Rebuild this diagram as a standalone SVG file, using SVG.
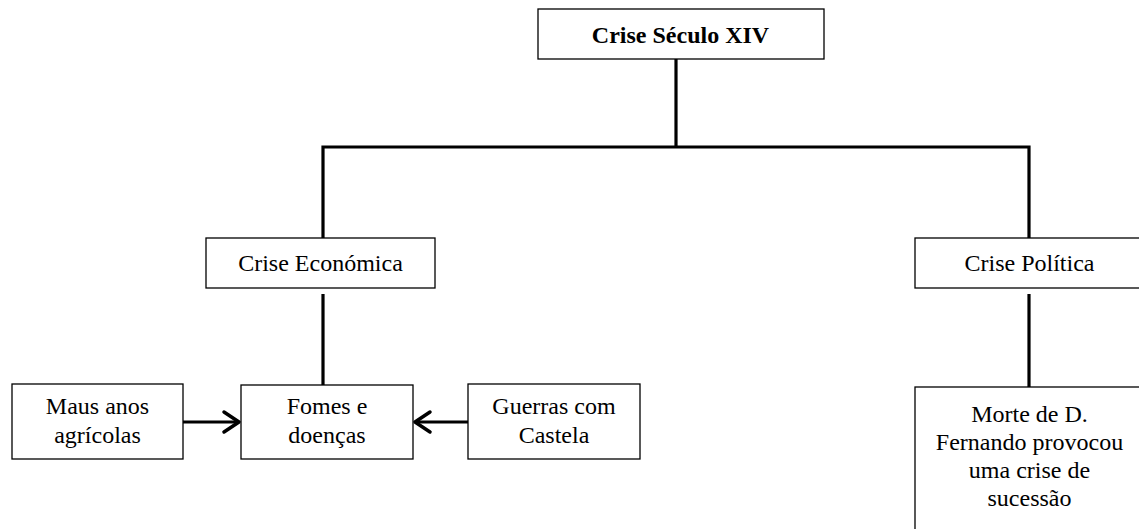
<svg xmlns="http://www.w3.org/2000/svg" width="1139" height="529" viewBox="0 0 1139 529">
  <defs>
    <style>
      .box { fill: #ffffff; stroke: #000000; stroke-width: 1.3; }
      .t { font-family: "Liberation Serif", "Times New Roman", serif; font-size: 24px; fill: #000000; text-anchor: middle; }
      .b { font-weight: bold; }
      .ln { fill: none; stroke: #000000; stroke-width: 3.2; }
      .ar { fill: none; stroke: #000000; stroke-width: 3.5; stroke-linecap: round; stroke-linejoin: round; }
    </style>
  </defs>
  <rect x="0" y="0" width="1139" height="529" fill="#ffffff"/>

  <g id="connectors">
    <line class="ln" x1="676" y1="59" x2="676" y2="147"/>
    <polyline class="ln" points="323,238 323,147 1029,147 1029,238"/>
    <line class="ln" x1="323" y1="294" x2="323" y2="385"/>
    <line class="ln" x1="1029" y1="294" x2="1029" y2="387"/>
    <g id="arrow-maus">
      <line class="ln" x1="183" y1="422" x2="238" y2="422"/>
      <polyline class="ar" points="224,412 239,422 224,432"/>
    </g>
    <g id="arrow-guerras">
      <line class="ln" x1="468" y1="422" x2="416" y2="422"/>
      <polyline class="ar" points="430,412 415,422 430,432"/>
    </g>
  </g>

  <g id="node-crise-seculo">
    <rect class="box" x="538" y="9" width="286" height="50"/>
    <text class="t b" x="680.5" y="43">Crise Século XIV</text>
  </g>

  <g id="node-crise-economica">
    <rect class="box" x="206" y="238" width="229" height="50"/>
    <text class="t" x="320.5" y="271">Crise Económica</text>
  </g>

  <g id="node-crise-politica">
    <rect class="box" x="915" y="238" width="229" height="50"/>
    <text class="t" x="1029.5" y="271">Crise Política</text>
  </g>

  <g id="node-maus-anos">
    <rect class="box" x="12" y="384" width="171" height="75"/>
    <text class="t" x="97.5" y="414">Maus anos</text>
    <text class="t" x="97.5" y="443">agrícolas</text>
  </g>

  <g id="node-fomes">
    <rect class="box" x="241" y="385" width="172" height="74"/>
    <text class="t" x="327" y="414">Fomes e</text>
    <text class="t" x="327" y="443">doenças</text>
  </g>

  <g id="node-guerras">
    <rect class="box" x="468" y="384" width="172" height="75"/>
    <text class="t" x="554" y="414">Guerras com</text>
    <text class="t" x="554" y="443">Castela</text>
  </g>

  <g id="node-morte">
    <rect class="box" x="915" y="387" width="229" height="150"/>
    <text class="t" x="1029.5" y="422">Morte de D.</text>
    <text class="t" x="1029.5" y="450">Fernando provocou</text>
    <text class="t" x="1029.5" y="478">uma crise de</text>
    <text class="t" x="1029.5" y="506">sucessão</text>
  </g>
</svg>
